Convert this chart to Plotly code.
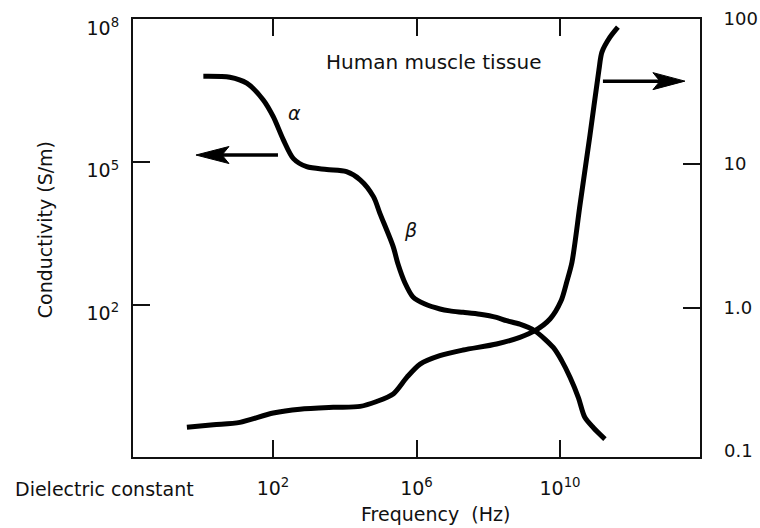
import math
import plotly.graph_objects as go

# Decreasing curve (alpha / beta dispersions), read on the left axis
diel_freq = [1.15, 6.3, 18.6, 53.7, 102, 195, 372, 871, 3.16e3, 1.12e4, 2.69e4, 6.31e4,
             9.55e4, 2.24e5, 3.05e5, 4.78e5, 7.98e5, 1.72e6, 4.51e6, 8.51e6, 2.00e7,
             5.89e7, 1.70e8, 3.24e8, 7.59e8, 2.00e9, 6.46e9, 1.12e10, 1.91e10, 3.24e10,
             4.90e10, 8.51e10, 1.78e11]
diel_vals = [6.3e6, 6.0e6, 4.5e6, 2.0e6, 8.9e5, 2.9e5, 1.17e5, 7.9e4, 6.9e4, 6.2e4, 4.2e4,
             1.86e4, 8.3e3, 1.66e3, 714, 285, 145, 103, 81, 74, 69, 63, 54, 46, 39, 28,
             12.6, 6.6, 2.95, 1.12, 0.43, 0.26, 0.15]

# Increasing curve, read on the right axis
cond_freq = [0.40, 2.19, 12.0, 102, 562, 4.79e3, 2.69e4, 7.76e4, 2.24e5, 5.37e5, 1.26e6,
             4.47e6, 2.00e7, 1.70e8, 7.59e8, 2.00e9, 5.25e9, 1.06e10, 1.56e10, 2.15e10,
             3.59e10, 6.81e10, 1.21e11, 1.47e11, 2.46e11, 4.10e11]
cond_vals = [0.150, 0.156, 0.162, 0.188, 0.200, 0.206, 0.209, 0.226, 0.255, 0.332, 0.410,
             0.469, 0.513, 0.565, 0.628, 0.698, 0.841, 1.12, 1.54, 2.08, 5.16, 15.7, 44.4,
             59.1, 75.0, 88.1]

x_tickvals = [1e2, 1e6, 1e10]
x_ticktext = ["10<sup>2</sup>", "10<sup>6</sup>", "10<sup>10</sup>"]
yl_tickvals = [1e2, 1e5, 1e8]
yl_ticktext = ["10<sup>2</sup>", "10<sup>5</sup>", "10<sup>8</sup>"]
yr_tickvals = [1, 10, 100]
yr_ticktext = ["1.0", "10", "100"]
yr_bottom_value = 0.1
yr_bottom_text = "0.1"

FONT = "DejaVu Sans"
INK = "#111111"

fig = go.Figure()
fig.add_trace(go.Scatter(x=diel_freq, y=diel_vals, mode="lines", yaxis="y",
                         line=dict(color="black", width=5, shape="spline", smoothing=0.8),
                         hoverinfo="skip", showlegend=False))
fig.add_trace(go.Scatter(x=cond_freq, y=cond_vals, mode="lines", yaxis="y2",
                         line=dict(color="black", width=5, shape="spline", smoothing=0.8),
                         hoverinfo="skip", showlegend=False))

axis_common = dict(showline=True, linecolor=INK, linewidth=2, ticks="inside", ticklen=17,
                   tickwidth=2, tickcolor=INK, showgrid=False, zeroline=False,
                   automargin=False)

fig.update_layout(
    width=760, height=528,
    margin=dict(l=133, r=60, t=19, b=71, autoexpand=False),
    paper_bgcolor="white", plot_bgcolor="white",
    font=dict(family=FONT, size=19, color=INK),
    xaxis=dict(type="log", range=[-1.9, 13.9], tickmode="array", tickvals=x_tickvals,
               ticktext=x_ticktext, mirror="ticks", ticklabelstandoff=13,
               tickfont=dict(family=FONT, size=19, color=INK), **axis_common),
    yaxis=dict(type="log", range=[-1.2, 8.0005], tickmode="array", tickvals=yl_tickvals,
               ticktext=yl_ticktext, ticklabelstandoff=8, ticklabelshift=9,
               tickfont=dict(family=FONT, size=19, color=INK), **axis_common),
    yaxis2=dict(type="log", range=[-1.03, 2.001], tickmode="array", tickvals=yr_tickvals,
                ticktext=yr_ticktext, overlaying="y", side="right", ticklabelstandoff=18,
                ticklabeloverflow="allow",
                tickfont=dict(family=FONT, size=18, color=INK), **axis_common),
)

annotations = [
    dict(text="Human muscle tissue", xref="paper", yref="paper", x=0.531, y=0.902,
         showarrow=False, xanchor="center", yanchor="middle", font=dict(size=20)),
    dict(text="Dielectric constant", xref="paper", yref="paper", x=-0.212, y=-0.073,
         showarrow=False, xanchor="left", yanchor="middle"),
    dict(text="Frequency  (Hz)", xref="paper", yref="paper", x=0.534, y=-0.130,
         showarrow=False, xanchor="center", yanchor="middle"),
    dict(text="Conductivity (S/m)", xref="paper", yref="paper", x=-0.155, y=0.518,
         showarrow=False, textangle=-90, xanchor="center", yanchor="middle"),
    dict(text="<i>α</i>", xref="x", yref="y", x=2.614, y=6.03, showarrow=False),
    dict(text="<i>β</i>", xref="x", yref="y", x=5.82, y=3.57, showarrow=False),
    dict(text=yr_bottom_text, xref="paper", yref="y2", x=1.0,
         y=math.log10(yr_bottom_value), xanchor="left", yanchor="middle", xshift=22,
         yshift=2, showarrow=False, font=dict(size=18)),
]
fig.update_layout(annotations=annotations)

# Arrows: tip anchored at data positions, arrow geometry in pixels
left_tip = (10 ** -0.145, 10 ** 5.143)
right_tip = (10 ** 13.48, 10 ** 1.571)
shapes = [
    dict(type="path", xref="x", yref="y", xsizemode="pixel", ysizemode="pixel",
         xanchor=left_tip[0], yanchor=left_tip[1], path="M22,0 L82,0",
         line=dict(color="black", width=3.5)),
    dict(type="path", xref="x", yref="y", xsizemode="pixel", ysizemode="pixel",
         xanchor=left_tip[0], yanchor=left_tip[1],
         path="M0,0 L33,8.5 L26,0 L33,-8.5 Z", fillcolor="black",
         line=dict(color="black", width=1)),
    dict(type="path", xref="x", yref="y2", xsizemode="pixel", ysizemode="pixel",
         xanchor=right_tip[0], yanchor=right_tip[1], path="M-82,0 L-22,0",
         line=dict(color="black", width=3.5)),
    dict(type="path", xref="x", yref="y2", xsizemode="pixel", ysizemode="pixel",
         xanchor=right_tip[0], yanchor=right_tip[1],
         path="M0,0 L-32,8.5 L-25,0 L-32,-8.5 Z", fillcolor="black",
         line=dict(color="black", width=1)),
]
fig.update_layout(shapes=shapes)

fig.write_html("out.html", config={"displayModeBar": False},
               post_script="document.body.style.margin='0';")
